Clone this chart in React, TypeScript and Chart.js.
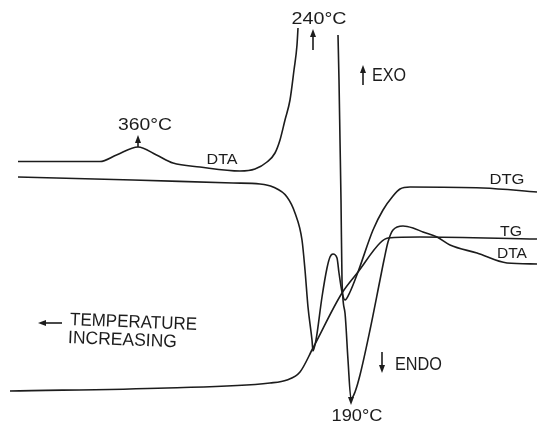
import React, { useEffect, useRef } from "react";
import { Chart, registerables } from "chart.js";

Chart.register(...registerables);

type P = { x: number; y: number };

// x: chart-time units (temperature increases to the left), y: signal units
const dtaHighTemp: P[] = [
  { x: 3.6, y: 52.7 }, { x: 12, y: 52.7 }, { x: 20, y: 52.7 }, { x: 23.3, y: 54 },
  { x: 27.6, y: 55.6 }, { x: 31.3, y: 54 }, { x: 34.6, y: 52.4 }, { x: 40, y: 51.6 },
  { x: 48, y: 50.8 }, { x: 51, y: 51.2 }, { x: 53.4, y: 52.6 }, { x: 55, y: 54.4 },
  { x: 56, y: 57 }, { x: 57, y: 61 }, { x: 58, y: 65 }, { x: 58.8, y: 71 },
  { x: 59.4, y: 76 }, { x: 59.6, y: 79.4 },
];

const dtaLowTemp: P[] = [
  { x: 67.6, y: 78 }, { x: 67.8, y: 69 }, { x: 68, y: 57 }, { x: 68.2, y: 45 },
  { x: 68.4, y: 29 }, { x: 69, y: 22.4 }, { x: 69.6, y: 13 }, { x: 70.2, y: 5.2 },
  { x: 71, y: 6.6 }, { x: 72, y: 10 }, { x: 74, y: 19 }, { x: 76, y: 29 },
  { x: 76.8, y: 33 }, { x: 77.6, y: 36.6 }, { x: 78.6, y: 39 }, { x: 80.6, y: 39.8 },
  { x: 82.6, y: 39.4 }, { x: 84.6, y: 38.6 }, { x: 87.4, y: 37.6 }, { x: 90, y: 36 },
  { x: 95.4, y: 34.4 }, { x: 101.4, y: 32.4 }, { x: 107.4, y: 32.2 },
];

const dtg: P[] = [
  { x: 3.6, y: 49.6 }, { x: 26.6, y: 49 }, { x: 46.6, y: 48.4 }, { x: 52, y: 48.2 },
  { x: 54.6, y: 47.6 }, { x: 57.4, y: 45.6 }, { x: 59, y: 42.4 }, { x: 60.4, y: 37 },
  { x: 61, y: 31 }, { x: 61.6, y: 23.6 }, { x: 62.4, y: 17 }, { x: 62.6, y: 14.8 },
  { x: 63.2, y: 17 }, { x: 64.4, y: 25.6 }, { x: 65.4, y: 31.4 }, { x: 66, y: 33.6 },
  { x: 66.6, y: 34.2 }, { x: 67.4, y: 33.4 }, { x: 67.8, y: 30.4 }, { x: 68.4, y: 26.6 },
  { x: 69, y: 25 }, { x: 70, y: 26.6 }, { x: 71.6, y: 30.6 }, { x: 74.6, y: 39 },
  { x: 76.6, y: 43 }, { x: 78.6, y: 45.8 }, { x: 80, y: 47.2 }, { x: 82, y: 47.6 },
  { x: 96.6, y: 47.4 }, { x: 107.4, y: 46.6 },
];

const tg: P[] = [
  { x: 2, y: 6.8 }, { x: 33.4, y: 7.4 }, { x: 54, y: 8.4 }, { x: 57.4, y: 9 },
  { x: 60, y: 10.6 }, { x: 62.6, y: 15.4 }, { x: 68.4, y: 26.4 }, { x: 71.6, y: 30.6 },
  { x: 76, y: 36.4 }, { x: 77.6, y: 37.4 }, { x: 84, y: 37.6 }, { x: 107.4, y: 37.2 },
];

const curveLabels = ["DTA", "DTG", "TG", "DTA"];
const peakLabels = ["360°C", "240°C", "190°C"];
const directionLabels = ["EXO", "ENDO", "TEMPERATURE", "INCREASING"];

type Note = { text: string; x: number; y: number; w: number; align: "left" | "center"; size: number; rot?: number };
const notes: Note[] = [
  { text: peakLabels[1], x: 63.8, y: 81.2, w: 55, align: "center", size: 17 },
  { text: directionLabels[0], x: 74.4, y: 69.7, w: 34, align: "left", size: 18 },
  { text: peakLabels[0], x: 29, y: 60, w: 54, align: "center", size: 17 },
  { text: curveLabels[0], x: 44.4, y: 53, w: 31, align: "center", size: 14 },
  { text: curveLabels[1], x: 101.4, y: 49, w: 35, align: "center", size: 15 },
  { text: curveLabels[2], x: 102.2, y: 38.6, w: 22, align: "center", size: 15 },
  { text: curveLabels[3], x: 102.4, y: 34.2, w: 30, align: "center", size: 15 },
  { text: directionLabels[2], x: 14, y: 21, w: 127, align: "left", size: 18, rot: 0.04 },
  { text: directionLabels[3], x: 13.6, y: 17.4, w: 109, align: "left", size: 18, rot: 0.04 },
  { text: directionLabels[1], x: 79, y: 12, w: 47, align: "left", size: 18 },
  { text: peakLabels[2], x: 71.4, y: 1.8, w: 51, align: "center", size: 17 },
];

type Arrow = { x0: number; y0: number; x1: number; y1: number };
const arrows: Arrow[] = [
  { x0: 62.6, y0: 75, x1: 62.6, y1: 79.2 },
  { x0: 72.6, y0: 68, x1: 72.6, y1: 72 },
  { x0: 27.6, y0: 55.6, x1: 27.6, y1: 58 },
  { x0: 76.4, y0: 14.6, x1: 76.4, y1: 10.4 },
  { x0: 70.2, y0: 5.4, x1: 70.2, y1: 4.0 },
  { x0: 12.4, y0: 20.4, x1: 7.6, y1: 20.4 },
];

const INK = "#1c1c1c";

const annotationPlugin = {
  id: "thermoNotes",
  afterDatasetsDraw(chart: any) {
    const { ctx, scales } = chart;
    const sx = (v: number) => scales.x.getPixelForValue(v);
    const sy = (v: number) => scales.y.getPixelForValue(v);
    ctx.save();
    ctx.fillStyle = INK;
    ctx.strokeStyle = INK;
    for (const n of notes) {
      ctx.save();
      ctx.font = `${n.size}px 'Liberation Sans', 'DejaVu Sans', sans-serif`;
      const m = ctx.measureText(n.text).width;
      ctx.translate(sx(n.x), sy(n.y));
      if (n.rot) ctx.rotate(n.rot);
      ctx.scale(n.w / m, 1);
      ctx.textBaseline = "middle";
      ctx.textAlign = n.align;
      ctx.fillText(n.text, 0, 0);
      ctx.restore();
    }
    ctx.lineWidth = 1.6;
    for (const a of arrows) {
      const x0 = sx(a.x0), y0 = sy(a.y0), x1 = sx(a.x1), y1 = sy(a.y1);
      const ang = Math.atan2(y1 - y0, x1 - x0);
      const hl = 8, hw = 3;
      ctx.beginPath();
      ctx.moveTo(x0, y0);
      ctx.lineTo(x1 - Math.cos(ang) * hl * 0.6, y1 - Math.sin(ang) * hl * 0.6);
      ctx.stroke();
      ctx.beginPath();
      ctx.moveTo(x1, y1);
      ctx.lineTo(x1 - Math.cos(ang) * hl - Math.sin(ang) * hw, y1 - Math.sin(ang) * hl + Math.cos(ang) * hw);
      ctx.lineTo(x1 - Math.cos(ang) * hl + Math.sin(ang) * hw, y1 - Math.sin(ang) * hl - Math.cos(ang) * hw);
      ctx.closePath();
      ctx.fill();
    }
    ctx.restore();
  },
};

export default function App() {
  const ref = useRef<HTMLCanvasElement | null>(null);
  useEffect(() => {
    if (!ref.current) return;
    const line = (label: string, data: P[]) => ({
      label,
      data,
      showLine: true,
      borderColor: INK,
      borderWidth: 1.6,
      pointRadius: 0,
      fill: false,
      cubicInterpolationMode: "monotone" as const,
    });
    const chart = new Chart(ref.current, {
      type: "scatter",
      data: {
        datasets: [
          line("DTA", dtaHighTemp),
          line("DTA", dtaLowTemp),
          line("DTG", dtg),
          line("TG", tg),
        ],
      },
      options: {
        responsive: false,
        animation: false,
        layout: { padding: 0 },
        plugins: { legend: { display: false }, tooltip: { enabled: false } },
        scales: {
          x: { type: "linear", min: 0, max: 107.8, display: false },
          y: { type: "linear", min: 0, max: 85, display: false },
        },
      },
      plugins: [annotationPlugin],
    });
    return () => chart.destroy();
  }, []);
  return (
    <div style={{ position: "absolute", left: 0, top: 0, width: 539, height: 425, background: "#fff" }}>
      <canvas ref={ref} width={539} height={425} style={{ display: "block" }} />
    </div>
  );
}
